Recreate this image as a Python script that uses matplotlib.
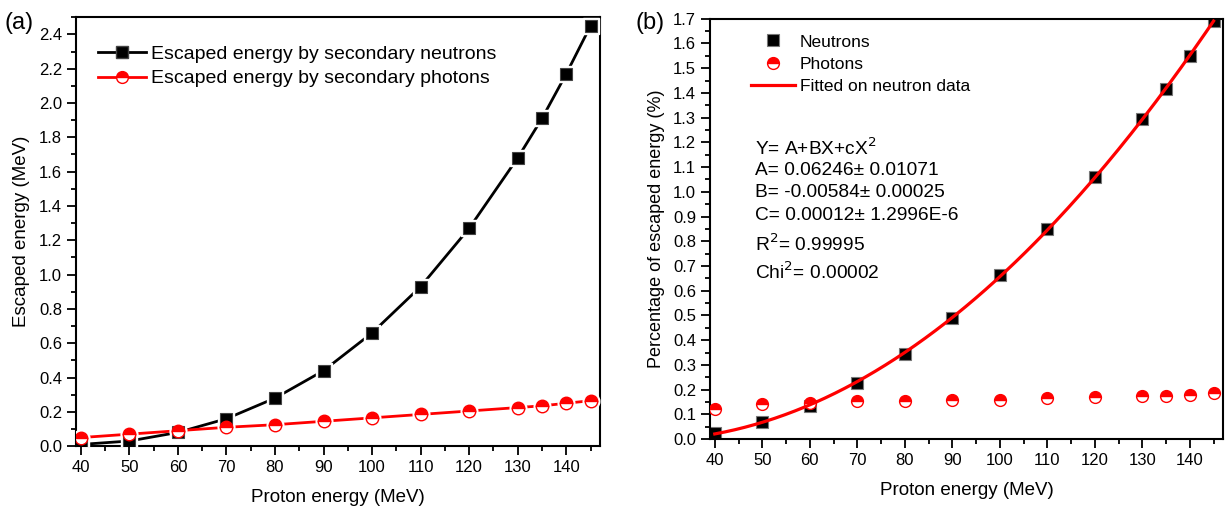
import numpy as np
import matplotlib.pyplot as plt

plt.rcParams['font.family'] = ['Liberation Sans', 'DejaVu Sans']

# data
proton_energy = [40, 50, 60, 70, 80, 90, 100, 110, 120, 130, 135, 140, 145]
neutron_mev = [0.01, 0.03, 0.08, 0.16, 0.28, 0.44, 0.66, 0.93, 1.27, 1.68, 1.91, 2.17, 2.45]
photon_mev = [0.05, 0.07, 0.09, 0.11, 0.125, 0.145, 0.165, 0.185, 0.205, 0.225, 0.235, 0.25, 0.265]
neutron_pct = [0.025, 0.07, 0.135, 0.225, 0.345, 0.49, 0.665, 0.85, 1.06, 1.295, 1.415, 1.55, 1.69]
photon_pct = [0.12, 0.14, 0.145, 0.155, 0.155, 0.16, 0.16, 0.165, 0.17, 0.175, 0.175, 0.18, 0.185]

fit_text = ["Y= A+BX+cX$^2$",
            "A= 0.06246\u00b1 0.01071",
            "B= -0.00584\u00b1 0.00025",
            "C= 0.00012\u00b1 1.2996E-6",
            "R$^2$= 0.99995",
            "Chi$^2$= 0.00002"]
fit_text_y = [0.693, 0.638, 0.586, 0.531, 0.464, 0.398]

fig = plt.figure(figsize=(12.25, 5.07), dpi=100)
ax1 = fig.add_axes([0.062, 0.120, 0.428, 0.846])
ax2 = fig.add_axes([0.5796, 0.134, 0.4188, 0.829])

x = np.array(proton_energy)

def style(ax, ylim, ymaj, ymin):
    ax.set_xlim(39, 147)
    ax.set_ylim(*ylim)
    ax.set_xticks(np.arange(40, 141, 10))
    ax.set_xticks(np.arange(45, 146, 5), minor=True)
    ax.set_yticks(np.arange(0, ylim[1] + 1e-6, ymaj))
    ax.set_yticks(np.arange(0, ylim[1] + 1e-6, ymin), minor=True)
    ax.tick_params(which='both', direction='out', top=False, right=False,
                   width=1.3, labelsize=12)
    ax.tick_params(which='major', length=6.5)
    ax.tick_params(which='minor', length=3.3)
    for s in ax.spines.values():
        s.set_linewidth(1.5)
    ax.set_xlabel('Proton energy (MeV)', fontsize=13.5, labelpad=10)

# panel (a)
ax1.plot(x, neutron_mev, color='black', lw=2, zorder=2)
ax1.plot(x, neutron_mev, ls='none', marker='s', ms=11, mfc='white', mec='white', zorder=3)
ax1.plot(x, neutron_mev, ls='none', marker='s', ms=8.5, mfc='black', mec='#444444', mew=0.8, zorder=4)
ax1.plot(x, photon_mev, color='red', lw=2, zorder=2)
ax1.plot(x, photon_mev, ls='none', marker='o', ms=12, mfc='white', mec='white', zorder=3)
ax1.plot(x, photon_mev, ls='none', marker='o', ms=9, fillstyle='top', mfc='red',
         mfcalt='white', mec='red', mew=1, zorder=5)

h1, = ax1.plot([], [], color='black', lw=2, marker='s', ms=8, mfc='black', mec='#444444')
h2, = ax1.plot([], [], color='red', lw=2, marker='o', ms=8.5, fillstyle='top', mfc='red',
               mfcalt='white', mec='red')
ax1.legend([h1, h2], ['Escaped energy by secondary neutrons', 'Escaped energy by secondary photons'],
           loc='upper left', bbox_to_anchor=(0.008, 0.975), frameon=False, fontsize=14,
           handlelength=2.5, handletextpad=0.25, labelspacing=0.35)

style(ax1, (0, 2.5), 0.2, 0.1)
ax1.set_ylabel('Escaped energy (MeV)', fontsize=13.5, labelpad=6)
ax1.yaxis.set_major_formatter(plt.FormatStrFormatter('%.1f'))
fig.text(0.004, 0.955, '(a)', fontsize=17, va='center')

# panel (b)
coef = np.polyfit(x, neutron_pct, 2)
xf = np.linspace(40, 145, 200)
ax2.plot(x, neutron_pct, ls='none', marker='s', ms=8.5, mfc='black', mec='#777777', mew=0.8,
         zorder=2, label='Neutrons')
ax2.plot(x, photon_pct, ls='none', marker='o', ms=8.5, fillstyle='top', mfc='red', mfcalt='white',
         mec='red', mew=1, zorder=3, label='Photons')
ax2.plot(xf, np.polyval(coef, xf), color='red', lw=2.3, zorder=4, label='Fitted on neutron data')
ax2.legend(loc='upper left', bbox_to_anchor=(0.05, 1.0), frameon=False, fontsize=12.5,
           handlelength=2.5, handletextpad=0.3, labelspacing=0.4)

for t, ty in zip(fit_text, fit_text_y):
    ax2.text(0.088, ty, t, transform=ax2.transAxes, fontsize=13.8, va='center')

style(ax2, (0, 1.7), 0.1, 0.05)
ax2.set_ylabel('Percentage of escaped energy (%)', fontsize=13, labelpad=6)
ax2.yaxis.set_major_formatter(plt.FormatStrFormatter('%.1f'))
fig.text(0.519, 0.955, '(b)', fontsize=17, va='center')

fig.savefig('out.png', dpi=100)
